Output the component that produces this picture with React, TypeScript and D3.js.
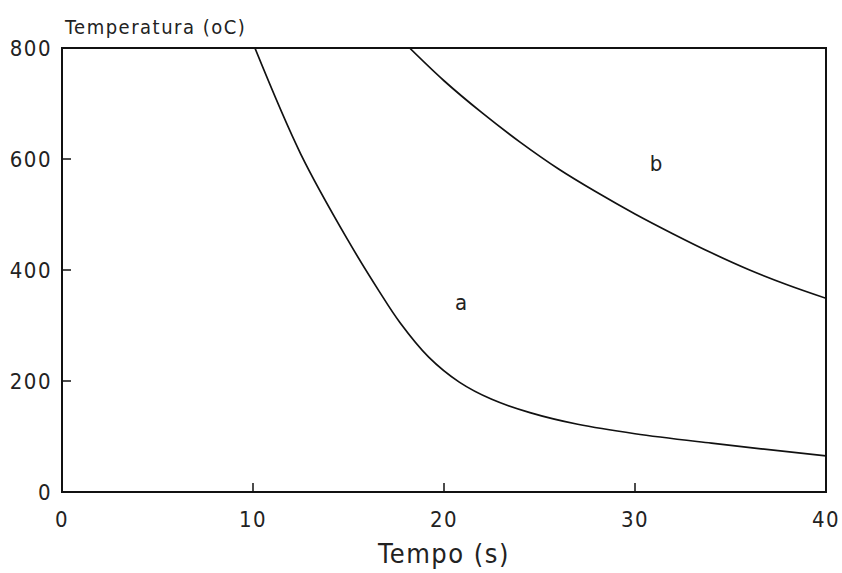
import React from "react";
import * as d3 from "d3";

const timeA = [10.1, 12.5, 15, 16.6, 17.7, 19.2, 20.8, 22.5, 24.5, 27, 30, 34, 40];
const tempA = [800, 609, 452, 362, 305, 243, 198, 167, 143, 122, 105, 88, 65];
const timeB = [18.2, 20, 22, 24, 26, 28, 30, 32, 34, 36, 38, 40];
const tempB = [800, 741, 683, 630, 582, 540, 501, 465, 431, 400, 373, 349];
const xTicks = [0, 10, 20, 30, 40];
const yTicks = [0, 200, 400, 600, 800];
const curveLabels = [
  { text: "a", t: 20.9, v: 342 },
  { text: "b", t: 31.1, v: 593 },
];

const W = 842;
const H = 573;
const L = 62, R = 826, T = 48, B = 492;
const FONT = "'DejaVu Sans Condensed', 'DejaVu Sans', sans-serif";

export default function App() {
  const x = d3.scaleLinear().domain([0, 40]).range([L, R]);
  const y = d3.scaleLinear().domain([0, 800]).range([B, T]);
  const line = d3
    .line<[number, number]>()
    .x((d) => x(d[0]))
    .y((d) => y(d[1]))
    .curve(d3.curveCatmullRom.alpha(0.5));
  const dA = line(timeA.map((t, i) => [t, tempA[i]] as [number, number])) || "";
  const dB = line(timeB.map((t, i) => [t, tempB[i]] as [number, number])) || "";

  return (
    <div style={{ position: "fixed", left: 0, top: 0, width: W, height: H, background: "#fff" }}>
      <svg width={W} height={H} viewBox={`0 0 ${W} ${H}`}>
        <rect width={W} height={H} fill="#fff" />
        <defs>
          <clipPath id="plot">
            <rect x={L} y={T} width={R - L} height={B - T} />
          </clipPath>
        </defs>
        <g clipPath="url(#plot)" fill="none" stroke="#111" strokeWidth={1.7}>
          <path d={dA} />
          <path d={dB} />
        </g>
        {xTicks
          .filter((t) => t > 0 && t < 40)
          .map((t) => (
            <line key={"xt" + t} x1={x(t)} x2={x(t)} y1={B} y2={B - 9} stroke="#111" strokeWidth={1.5} />
          ))}
        {yTicks
          .filter((v) => v > 0 && v < 800)
          .map((v) => (
            <line key={"yt" + v} x1={L} x2={L + 9} y1={y(v)} y2={y(v)} stroke="#111" strokeWidth={1.5} />
          ))}
        <rect x={L} y={T} width={R - L} height={B - T} fill="none" stroke="#111" strokeWidth={2} />
        {xTicks.map((t) => (
          <text
            key={"xl" + t}
            x={x(t)}
            y={527}
            textAnchor="middle"
            fontFamily={FONT}
            fontSize={22}
            letterSpacing={1.5}
            fill="#222"
          >
            {t}
          </text>
        ))}
        {yTicks.map((v) => (
          <text
            key={"yl" + v}
            x={52}
            y={y(v) + 8}
            textAnchor="end"
            fontFamily={FONT}
            fontSize={22}
            letterSpacing={1.5}
            fill="#222"
          >
            {v}
          </text>
        ))}
        {curveLabels.map((c) => (
          <text
            key={c.text}
            x={x(c.t)}
            y={y(c.v) + 8}
            textAnchor="middle"
            fontFamily={FONT}
            fontSize={22}
            fill="#222"
          >
            {c.text}
          </text>
        ))}
        <text x={65} y={34} fontFamily={FONT} fontSize={20} letterSpacing={1.5} fill="#222">
          Temperatura (oC)
        </text>
        <text
          x={(L + R) / 2}
          y={563}
          textAnchor="middle"
          fontFamily={FONT}
          fontSize={27}
          letterSpacing={1.5}
          fill="#222"
        >
          Tempo (s)
        </text>
      </svg>
    </div>
  );
}
